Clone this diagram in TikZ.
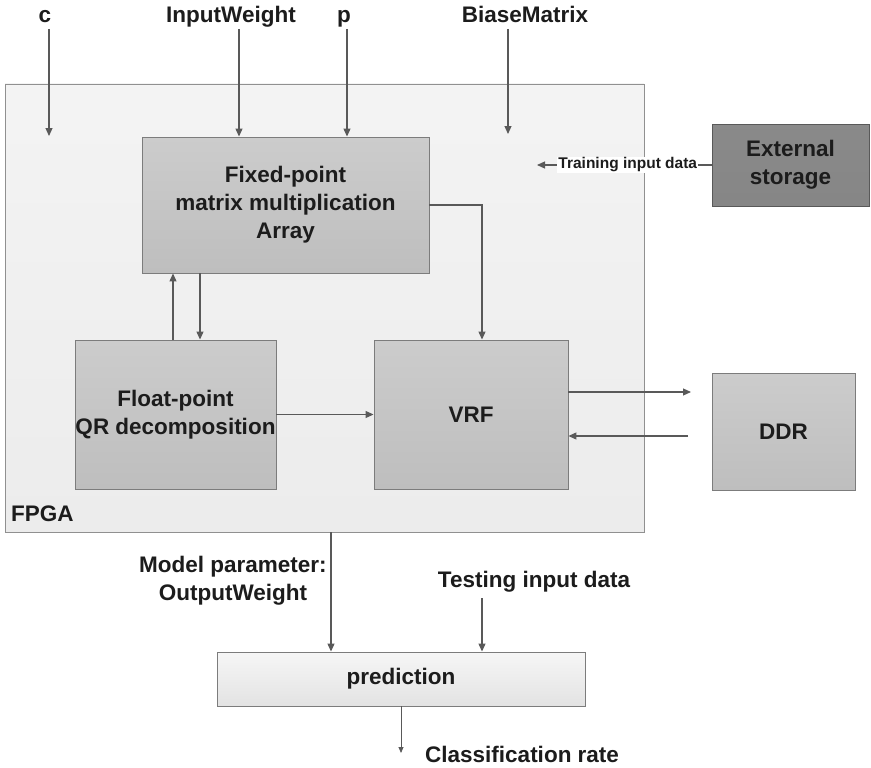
\documentclass[tikz,border=0pt]{standalone}
\usepackage{fontspec}
\setmainfont{Liberation Sans}
\usetikzlibrary{arrows.meta}
\definecolor{linegray}{HTML}{595959}
\definecolor{edgegray}{HTML}{7C7C7C}
\definecolor{txtgray}{HTML}{1C1C1C}
\tikzset{
  lbl/.style={text=txtgray, font=\bfseries\fontsize{22.5}{28}\selectfont, align=center, inner sep=0pt},
  onelbl/.style={lbl, text height=16.5, text depth=4.8},
  small/.style={text=txtgray, font=\bfseries\fontsize{15.5}{18}\selectfont, inner sep=1pt, fill=white},
  blk/.style={lbl, draw=edgegray, line width=0.9pt, top color=gray!40, bottom color=gray!51},
  fpgabox/.style={draw=edgegray!85, line width=0.9pt, top color=gray!9, bottom color=gray!15},
  extbox/.style={lbl, draw=gray!130, line width=0.9pt, top color=gray!92!white, bottom color=gray!105!black},
  predbox/.style={lbl, draw=edgegray, line width=0.9pt, top color=gray!7, bottom color=gray!22},
  arr/.style={draw=linegray, line width=1.1pt, -{Triangle[length=8pt,width=7pt]}},
  thinarr/.style={draw=linegray, line width=0.8pt, -{Triangle[length=6pt,width=5pt]}}
}
\begin{document}
\begin{tikzpicture}[x=1pt,y=-1pt]
\useasboundingbox (0,0) rectangle (871,768);
\node[fpgabox, minimum width=639, minimum height=448] (fpga) at (324.5,308) {};
\node[onelbl, anchor=west] (fpgatxt) at (11,516) {FPGA};
\node[blk, minimum width=287, minimum height=136] (mult) at (285.5,205) {Fixed-point\\matrix multiplication\\Array};
\node[blk, minimum width=201, minimum height=149] (qr) at (175.5,414.5) {Float-point\\QR decomposition};
\node[blk, minimum width=194, minimum height=149] (vrf) at (471,414.5) {VRF};
\node[blk, minimum width=143, minimum height=117] (ddr) at (783.5,431.5) {DDR};
\node[extbox, minimum width=157, minimum height=82] (ext) at (790.5,165) {External\\storage};
\node[predbox, minimum width=368, minimum height=54] (pred) at (401,679) {prediction};

\node[onelbl] (cl) at (45,17) {c};
\node[onelbl] (iwl) at (231,17) {InputWeight};
\node[onelbl] (pl) at (344,17) {p};
\node[onelbl] (bml) at (525,17) {BiaseMatrix};
\node[lbl] (mpl) at (233,581) {Model parameter:\\OutputWeight};
\node[onelbl] (tstl) at (534,582) {Testing input data};
\node[onelbl, anchor=west] (crl) at (425,757) {Classification rate};

\coordinate (c0) at (49,29);
\coordinate (c1) at (49,136);
\coordinate (iw0) at (239,29);
\coordinate (p0) at (347,29);
\coordinate (bm0) at (508,29);
\coordinate (bm1) at (508,134);
\coordinate (tin) at (537,165);
\coordinate (ddrin) at (691,392);
\coordinate (ddrout) at (688,436);
\coordinate (tst0) at (482,598);
\coordinate (cr1) at (401,753);

\draw[arr] (c0) -- (c1);
\draw[arr] (iw0) -- (iw0 |- mult.north);
\draw[arr] (p0) -- (p0 |- mult.north);
\draw[arr] (bm0) -- (bm1);
\draw[arr] (ext.west) -- node[small, pos=0.48] {Training input data} (tin);
\draw[arr] ([xshift=-2.5]qr.north) -- ([xshift=-2.5]qr.north |- mult.south);
\draw[arr] ([xshift=24.5]qr.north |- mult.south) -- ([xshift=24.5]qr.north);
\draw[arr] (mult.east) -| ([xshift=11]vrf.north);
\draw[arr] (qr.east) -- (vrf.west);
\draw[arr] (vrf.east |- ddrin) -- (ddrin);
\draw[arr] (ddrout) -- (vrf.east |- ddrout);
\draw[arr] ([xshift=-70]pred.north |- fpga.south) -- ([xshift=-70]pred.north);
\draw[arr] (tst0) -- (tst0 |- pred.north);
\draw[thinarr] (pred.south) -- (cr1);
\end{tikzpicture}
\end{document}
